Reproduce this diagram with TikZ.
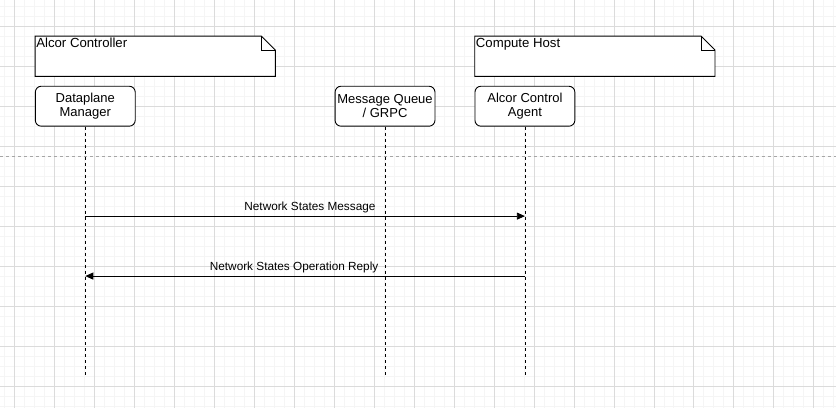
\documentclass[tikz,border=0pt]{standalone}
\usepackage{fontspec}
\setmainfont{Liberation Sans}
\usetikzlibrary{arrows.meta}

\begin{document}
\begin{tikzpicture}[x=1pt, y=-1pt,
    gridminor/.style={black!4, line width=0.6pt},
    gridmajor/.style={black!14, line width=0.6pt},
    notebox/.style={minimum width=240pt, minimum height=40pt, inner sep=0pt},
    notetext/.style={anchor=north west, inner sep=1pt, font=\fontsize{13.2}{15}\selectfont},
    partbox/.style={draw, fill=white, rounded corners=6pt, line width=0.9pt, minimum width=100pt,
        minimum height=40pt, align=center, inner sep=1pt, font=\fontsize{13}{14}\selectfont},
    lifeline/.style={line width=0.8pt, dash pattern=on 3pt off 3pt},
    msg/.style={line width=0.8pt, -{Triangle[length=8pt, width=7pt]}},
    msgtext/.style={above, inner sep=2.5pt, font=\fontsize{11.8}{13}\selectfont}]

    % Hintergrund und Raster
    \fill[white] (0,0) rectangle (836,408);
    \foreach \gx in {4,14,...,834} \draw[gridminor] (\gx,0) -- (\gx,408);
    \foreach \gy in {6,16,...,406} \draw[gridminor] (0,\gy) -- (836,\gy);
    \foreach \gx in {14,54,...,814} \draw[gridmajor] (\gx,0) -- (\gx,408);
    \foreach \gy in {26,66,...,386} \draw[gridmajor] (0,\gy) -- (836,\gy);

    % Trennlinie
    \draw[black!35, line width=0.7pt, dash pattern=on 3pt off 3pt] (0,156) -- (836,156);

    % Notizen
    \node[notebox] (ctrl) at (155,56) {};
    \node[notebox] (host) at (595,56) {};
    \foreach \nn in {ctrl, host} {
        \draw[fill=white, line width=0.9pt] (\nn.south west) -- (\nn.north west)
            -- ([xshift=-14pt]\nn.north east) -- ([yshift=-14pt]\nn.north east)
            -- (\nn.south east) -- cycle;
        \draw[line width=0.9pt] ([xshift=-14pt]\nn.north east) -- ([xshift=-14pt, yshift=-14pt]\nn.north east)
            -- ([yshift=-14pt]\nn.north east);
    }
    \node[notetext] (ctrl text) at ([yshift=-1pt]ctrl.north west) {Alcor Controller};
    \node[notetext] (host text) at ([yshift=-1pt]host.north west) {Compute Host};

    % Teilnehmer
    \node[partbox] (dm) at (85,106) {Dataplane\\Manager};
    \node[partbox] (mq) at (385,106) {Message Queue\\/ GRPC};
    \node[partbox] (agent) at (525,106) {Alcor Control\\Agent};

    % Lebenslinien
    \coordinate (dm end) at (85,376);
    \coordinate (mq end) at (385,376);
    \coordinate (agent end) at (525,376);
    \draw[lifeline] (dm.south) -- (dm end);
    \draw[lifeline] (mq.south) -- (mq end);
    \draw[lifeline] (agent.south) -- (agent end);

    % Nachrichten
    \coordinate (dm send) at (85,216);
    \coordinate (agent recv) at (525,216);
    \coordinate (agent send) at (525,276);
    \coordinate (dm recv) at (85,276);
    \draw[msg] (dm send) -- (agent recv) node[msgtext, pos=0.511] {Network States Message};
    \draw[msg] (agent send) -- (dm recv) node[msgtext, pos=0.525] {Network States Operation Reply};
\end{tikzpicture}
\end{document}
